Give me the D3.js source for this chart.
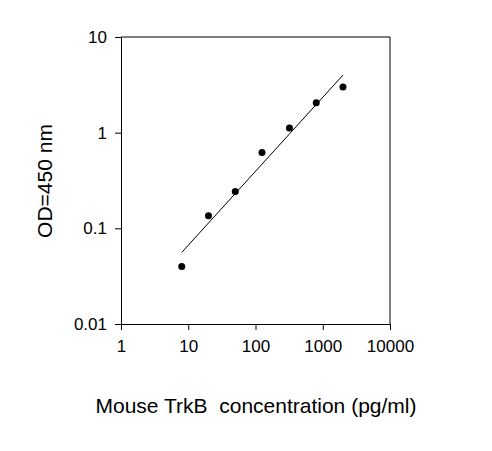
<!DOCTYPE html>
<html><head><meta charset="utf-8">
<script src="https://cdn.jsdelivr.net/npm/d3@7"></script>
<style>body{margin:0;background:#fff}</style>
</head><body><div id="chart"></div>
<script>
const conc = [8, 20, 50, 125, 320, 800, 2000];
const od = [0.04, 0.135, 0.243, 0.62, 1.12, 2.05, 3.0];
const fitX = [8, 2000];
const fitY = [0.056, 4.0];
const xTicks = [1, 10, 100, 1000, 10000];
const yTicks = [0.01, 0.1, 1, 10];

const width = 492, height = 451;
const mLeft = 121, mRight = 390, mTop = 37, mBottom = 324;

const svg = d3.select('#chart').append('svg')
  .attr('width', width).attr('height', height)
  .style('font-family', 'Arial, "Liberation Sans", sans-serif');

const x = d3.scaleLog().domain([1, 10000]).range([mLeft, mRight]);
const y = d3.scaleLog().domain([0.01, 10]).range([mBottom, mTop]);

// box top/right
svg.append('path')
  .attr('d', `M${mLeft},${mTop}H${mRight}V${mBottom}`)
  .attr('fill', 'none').attr('stroke', '#000');

const xAxis = svg.append('g')
  .attr('transform', `translate(0,${mBottom})`)
  .call(d3.axisBottom(x).tickValues(xTicks).tickFormat(d3.format('')).tickSize(6).tickPadding(10));
const yAxis = svg.append('g')
  .attr('transform', `translate(${mLeft},0)`)
  .call(d3.axisLeft(y).tickValues(yTicks).tickFormat(d => String(d)).tickSize(6).tickPadding(8));
[xAxis, yAxis].forEach(a => {
  a.select('.domain').attr('stroke', '#000');
  a.selectAll('line').attr('stroke', '#000');
  a.selectAll('text').attr('font-size', 17).attr('fill', '#000').style('font-family', 'Arial, "Liberation Sans", sans-serif');
});

const line = d3.line().x(d => x(d[0])).y(d => y(d[1]));
svg.append('path')
  .datum(d3.zip(fitX, fitY))
  .attr('d', line)
  .attr('fill', 'none').attr('stroke', '#000').attr('stroke-width', 1);

svg.selectAll('.pt')
  .data(d3.zip(conc, od))
  .enter().append('circle')
  .attr('cx', d => x(d[0])).attr('cy', d => y(d[1]))
  .attr('r', 3.5).attr('fill', '#000');

svg.append('text')
  .attr('x', 256).attr('y', 413)
  .attr('text-anchor', 'middle').attr('font-size', 21)
  .attr('xml:space', 'preserve')
  .text('Mouse TrkB  concentration (pg/ml)');

svg.append('text')
  .attr('transform', `translate(52,181) rotate(-90)`)
  .attr('text-anchor', 'middle').attr('font-size', 21)
  .text('OD=450 nm');
</script></body></html>
